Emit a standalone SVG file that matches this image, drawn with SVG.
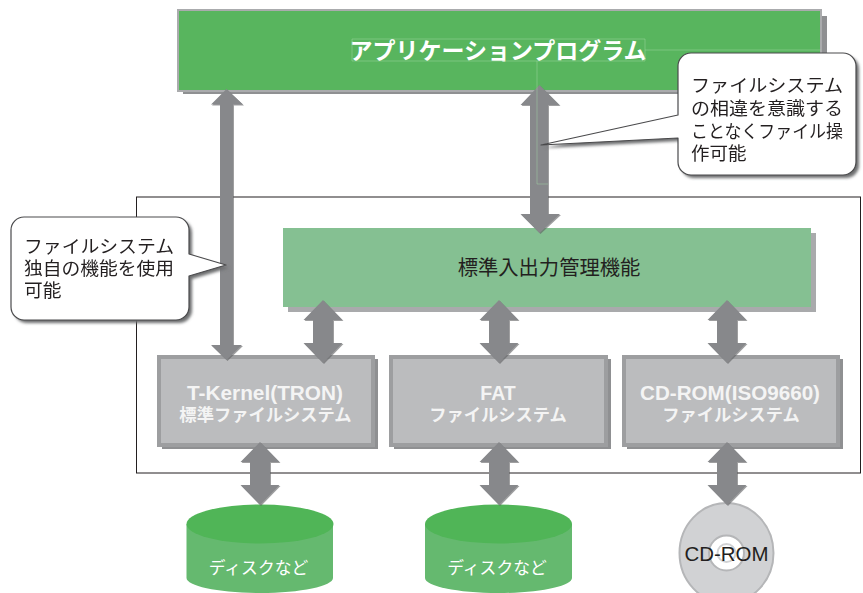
<svg xmlns="http://www.w3.org/2000/svg" width="863" height="593" viewBox="0 0 863 593">
<style>
text{font-family:"Liberation Sans","Noto Sans CJK JP",sans-serif}
.jp{font-family:"Noto Sans CJK JP","Liberation Sans",sans-serif}
.lbl{font-size:18px;fill:#231f20}
.box{fill:#bbbcbe;stroke:#9d9ea0;stroke-width:4}
.shd{fill:#8f9092}
.bt{font-size:17.300px;font-weight:700;fill:#f4f4f4;text-anchor:middle}
.lat{font-size:19.500px}
.arrow{fill:#87888b}
.arrowshd{fill:#5f6062}
.thin{fill:none;stroke:#a5dba8;stroke-width:.6;opacity:.75}
.call{fill:#fff;stroke:#4a4a4c;stroke-width:1.2;stroke-linejoin:round}
.callshd{fill:#6d6e70;filter:url(#b)}
.cyl{fill:#65b96f}
.cylt{fill:#50b557}
.disk{font-size:16.800px;fill:#fff;text-anchor:middle}
</style>
<defs>
<filter id="b" x="-10%" y="-10%" width="120%" height="120%"><feGaussianBlur stdDeviation="1.5"/></filter>
<path id="da" d="M0-31.500L19.500-11.500H10V11.500H19.500L0 31.500L-19.500 11.500H-10V-11.500H-19.500Z"/>
<path id="al" d="M226.500 89L243 104.500H233V345H242L226.500 360L211 345H220V104.500H211Z"/>
<path id="am" d="M539.500 85L559.500 105H548V214H560L539.500 233L520.500 214H530V105H520.500Z"/>
</defs>
<rect x="136.500" y="197" width="724" height="276" fill="#fff" stroke="#231f20" stroke-width="1"/>

<g id="app">
<rect x="183" y="16" width="644" height="78" class="shd"/>
<rect x="178" y="10" width="643" height="81" fill="#58b55e" stroke="#aaabad" stroke-width="2"/>
<text x="498" y="59" class="jp" font-size="23" font-weight="700" fill="#fff" text-anchor="middle">アプリケーションプログラム</text>
</g>

<g id="stdio">
<rect x="288" y="233" width="528" height="79" style="fill:#a9aaac"/>
<rect x="283" y="228" width="528" height="79" fill="#85c092"/>
<text x="549" y="275" class="jp" font-size="20.300" fill="#231f20" text-anchor="middle">標準入出力管理機能</text>
</g>

<g id="tkernel">
<rect x="162" y="359" width="216" height="90" class="shd"/>
<rect x="159" y="357" width="214" height="88" class="box"/>
<text x="265" y="400" class="bt lat" textLength="156" lengthAdjust="spacingAndGlyphs">T-Kernel(TRON)</text>
<text x="265.500" y="421" class="bt jp">標準ファイルシステム</text>
</g>
<g id="fat">
<rect x="394" y="359" width="217" height="90" class="shd"/>
<rect x="391" y="357" width="215" height="88" class="box"/>
<text x="498" y="400" class="bt lat">FAT</text>
<text x="498" y="421" class="bt jp">ファイルシステム</text>
</g>
<g id="cdfs">
<rect x="627" y="359" width="216" height="90" class="shd"/>
<rect x="624" y="357" width="214" height="88" class="box"/>
<text x="730" y="400" class="bt lat" textLength="180" lengthAdjust="spacingAndGlyphs">CD-ROM(ISO9660)</text>
<text x="731" y="421" class="bt jp">ファイルシステム</text>
</g>

<g id="disk1">
<path d="M186.500 524V578C186.500 586 219 593 260 593S333 586 333 578V524Z" class="cyl"/>
<ellipse cx="260" cy="524" rx="73.500" ry="19.500" class="cylt"/>
<text x="258.500" y="574" class="disk jp">ディスクなど</text>
</g>
<g id="disk2">
<path d="M425 524V578C425 586 457 593 498.500 593S572 586 572 578V524Z" class="cyl"/>
<ellipse cx="498.500" cy="524" rx="73.500" ry="19.500" class="cylt"/>
<text x="497" y="574" class="disk jp">ディスクなど</text>
</g>
<g id="cdrom">
<ellipse cx="726.500" cy="553" rx="47" ry="50" fill="#d1d2d4" stroke="#b5b6b8" stroke-width="2"/>
<circle cx="726.500" cy="553" r="17.500" fill="#fff" stroke="#b5b6b8" stroke-width="2"/>
<circle cx="726.500" cy="553" r="9" fill="none" stroke="#d1d2d4" stroke-width="2"/>
<text x="726.500" y="561" font-size="20" fill="#231f20" text-anchor="middle" textLength="84" lengthAdjust="spacingAndGlyphs">CD-ROM</text>
</g>

<g id="connectors">
<g class="arrowshd" opacity=".6">
<use href="#al" x="1" y="1"/><use href="#am" x="1" y="1"/>
<use href="#da" x="324" y="332.500"/><use href="#da" x="500" y="332.500"/><use href="#da" x="728" y="332.500"/>
<use href="#da" x="261" y="474.500"/><use href="#da" x="500" y="474.500"/><use href="#da" x="728" y="474.500"/>
</g>
<g class="arrow">
<use href="#al"/><use href="#am"/>
<use href="#da" x="323" y="331.500"/><use href="#da" x="499" y="331.500"/><use href="#da" x="727" y="331.500"/>
<use href="#da" x="260" y="473.500"/><use href="#da" x="499" y="473.500"/><use href="#da" x="727" y="473.500"/>
</g>
<path d="M352 39H645V61H352ZM645 50H821M537 61V184H548" class="thin"/>
</g>

<g id="note-right">
<path d="M691 53H843A13 13 0 0 1 856 66V162A13 13 0 0 1 843 175H691A13 13 0 0 1 678 162V138L541 145L678 115V66A13 13 0 0 1 691 53Z" class="callshd" transform="translate(3 3)"/>
<path d="M691 53H843A13 13 0 0 1 856 66V162A13 13 0 0 1 843 175H691A13 13 0 0 1 678 162V138L541 145L678 115V66A13 13 0 0 1 691 53Z" class="call"/>
<g class="lbl jp">
<text x="691" y="92" class="jp" textLength="152" lengthAdjust="spacingAndGlyphs">ファイルシステム</text>
<text x="691" y="115" class="jp" textLength="152" lengthAdjust="spacingAndGlyphs">の相違を意識する</text>
<text x="691" y="138" class="jp" textLength="152" lengthAdjust="spacingAndGlyphs">ことなくファイル操</text>
<text x="691" y="160" class="jp" font-size="18.500">作可能</text>
</g>
</g>
<g id="note-left">
<path d="M24 217H176A13 13 0 0 1 189 230V254L226 265L189 276V307A13 13 0 0 1 176 320H24A13 13 0 0 1 11 307V230A13 13 0 0 1 24 217Z" class="callshd" transform="translate(3 3)"/>
<path d="M24 217H176A13 13 0 0 1 189 230V254L226 265L189 276V307A13 13 0 0 1 176 320H24A13 13 0 0 1 11 307V230A13 13 0 0 1 24 217Z" class="call"/>
<g class="lbl jp">
<text x="24" y="253" class="jp" textLength="150" lengthAdjust="spacingAndGlyphs">ファイルシステム</text>
<text x="24" y="275" class="jp" textLength="150" lengthAdjust="spacingAndGlyphs">独自の機能を使用</text>
<text x="24" y="297" class="jp" font-size="18.700">可能</text>
</g>
</g>
</svg>
